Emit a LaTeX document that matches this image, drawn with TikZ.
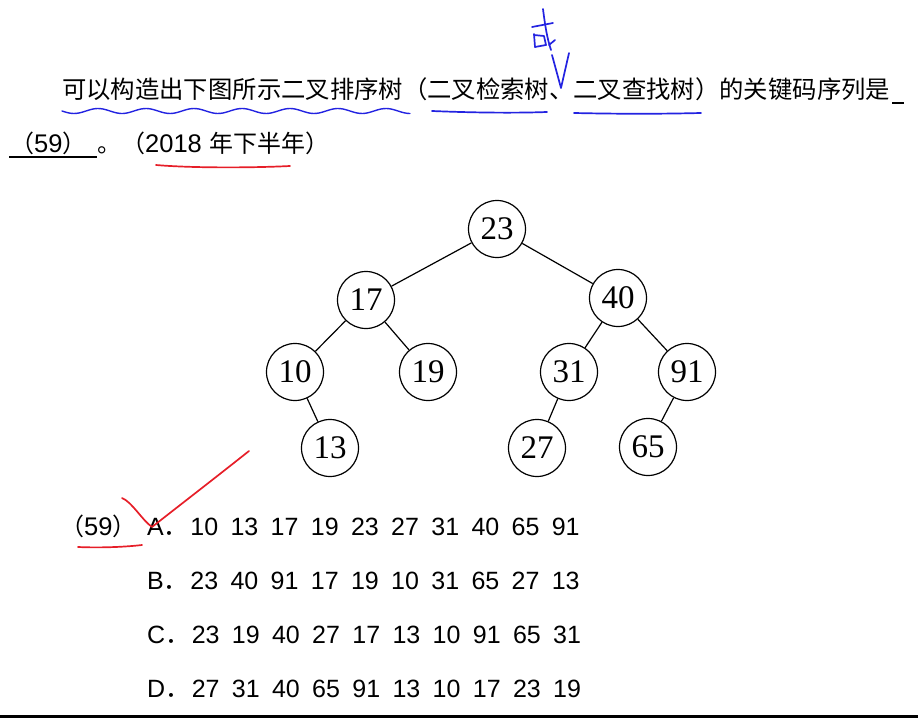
\documentclass[tikz,border=0pt]{standalone}
\usepackage{fontspec}
\setmainfont{Liberation Sans}
\newfontfamily\cjk{Noto Sans CJK SC}
\newfontfamily\optfont[WordSpace=1.78]{Liberation Sans}
\newfontfamily\treefont{Liberation Serif}
\definecolor{penblue}{RGB}{35,35,225}
\definecolor{penred}{RGB}{230,30,40}
\newcommand\zh[1]{{\cjk\fontsize{24}{24}\selectfont #1}}

\begin{document}
\begin{tikzpicture}[x=1pt, y=-1pt,
	bst/.style={draw, circle, line width=1.2pt, minimum size=57pt, inner sep=0pt, font=\treefont\fontsize{33}{33}\selectfont},
	edge/.style={line width=1.2pt},
	txt/.style={anchor=base west, inner sep=0pt, font=\fontsize{25.5}{25.5}\selectfont},
	opt/.style={anchor=base west, inner sep=0pt, font=\optfont\fontsize{25}{25}\selectfont},
	pen/.style={line width=1.7pt, line cap=round, line join=round}]
	\useasboundingbox (0,0) rectangle (918,722);

	% question
	\node[txt, font=\cjk\fontsize{24.35}{24}\selectfont] (q) at (62,99) {可以构造出下图所示二叉排序树（二叉检索树、二叉查找树）的关键码序列是};
	\draw[line width=1.4pt] (892,103) -- (904,103);
	\node[txt] (blank) at (10,153) {\zh{（}59\zh{）}};
	\draw[line width=1.4pt] (9,157) -- (97,157);
	\node[txt] (year) at (97,153) {\zh{。（}2018 \zh{年下半年）}};

	% tree
	\node[bst] (n23) at (497,229) {23};
	\node[bst] (n17) at (366,300) {17};
	\node[bst] (n40) at (618,298) {40};
	\node[bst] (n10) at (295,372) {10};
	\node[bst] (n19) at (428,372) {19};
	\node[bst] (n31) at (569,372) {31};
	\node[bst] (n91) at (687,372) {91};
	\node[bst] (n13) at (330,448) {13};
	\node[bst] (n27) at (537,448) {27};
	\node[bst] (n65) at (648,447) {65};
	\foreach \a/\b in {23/17,23/40,17/10,17/19,10/13,40/31,40/91,31/27,91/65}
		\draw[edge] (n\a) -- (n\b);

	% choices
	\node[txt] (p59) at (60,535) {\zh{（}59\zh{）}};
	\node[opt] (optA) at (147,535) {A{\cjk ．}\kern1.5pt 10 13 17 19 23 27 31 40 65 91};
	\node[opt] (optB) at (147,589) {B{\cjk ．}\kern1.5pt 23 40 91 17 19 10 31 65 27 13};
	\node[opt] (optC) at (147,643) {C{\cjk ．}\kern1.5pt 23 19 40 27 17 13 10 91 65 31};
	\node[opt] (optD) at (147,697) {D{\cjk ．}\kern1.5pt 27 31 40 65 91 13 10 17 23 19};
	\draw[line width=3.4pt] (0,716.5) -- (918,716.5);

	% blue pen
	\draw[pen, penblue, line width=1.4pt] plot[domain=62:410, samples=120, smooth] (\x, {111+2.5*sin(7.5*(\x-62))});
	\draw[pen, penblue] (432,111) .. controls (480,113) and (520,113) .. (547,112);
	\draw[pen, penblue] (574,113) .. controls (620,114) and (660,114) .. (701,113);
	\draw[pen, penblue] (552,55) -- (561,88) -- (569,53);
	\draw[pen, penblue] (532,27) -- (553,23);
	\draw[pen, penblue] (543,9) .. controls (545,25) and (547,38) .. (551,50);
	\draw[pen, penblue] (534,34) -- (535,47);
	\draw[pen, penblue] (534,35) -- (544,36) -- (546,45) -- (535,47);
	\draw[pen, penblue] (549,45) -- (555,40);

	% red pen
	\draw[pen, penred] (156,165) .. controls (190,168) and (250,168) .. (290,166);
	\draw[pen, penred] (78,547) .. controls (100,548) and (125,547) .. (142,545);
	\draw[pen, penred] (122,498) .. controls (132,502) and (142,520) .. (152,527)
		.. controls (180,505) and (215,478) .. (249,451);
\end{tikzpicture}
\end{document}
